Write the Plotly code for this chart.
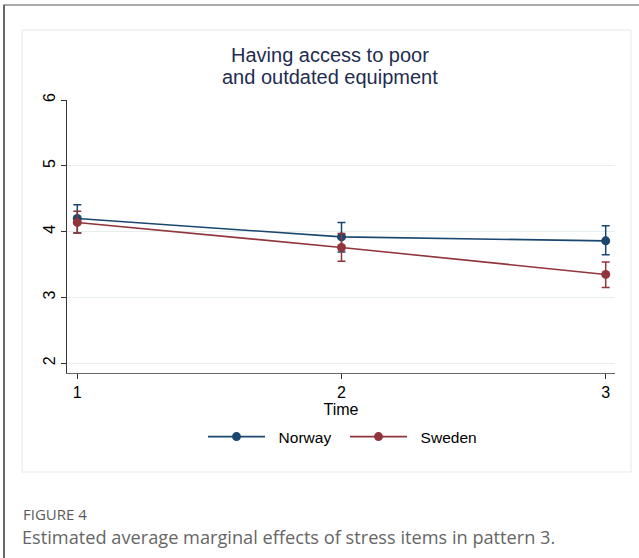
import plotly.graph_objects as go

# ---- data ----
time_points = [1, 2, 3]
norway_mean = [4.20, 3.92, 3.86]
norway_upper = [4.41, 4.14, 4.09]
norway_lower = [3.98, 3.69, 3.65]
sweden_mean = [4.14, 3.76, 3.35]
sweden_upper = [4.31, 3.97, 3.54]
sweden_lower = [3.98, 3.55, 3.15]
series_names = ["Norway", "Sweden"]
y_ticks = [2, 3, 4, 5, 6]
x_ticks = [1, 2, 3]
title_lines = ["Having access to poor", "and outdated equipment"]

W, H = 639, 558
L, R, T, B = 67, 615, 100, 373  # plot area in px

def px_x(p):
    return (p - L) / (R - L)

def px_y(p):
    return (B - p) / (B - T)

NAVY = "#1a476f"
MAROON = "#90353b"

fig = go.Figure()
for name, m, up, lo, c in [(series_names[0], norway_mean, norway_upper, norway_lower, NAVY),
                           (series_names[1], sweden_mean, sweden_upper, sweden_lower, MAROON)]:
    fig.add_trace(go.Scatter(
        x=time_points, y=m, name="&nbsp;&nbsp;" + name, mode="lines+markers",
        line=dict(color=c, width=1.6),
        marker=dict(color=c, size=9),
        error_y=dict(type="data", symmetric=False,
                     array=[u - v for u, v in zip(up, m)],
                     arrayminus=[v - d for v, d in zip(m, lo)],
                     color=c, thickness=1.5, width=4),
    ))

font_main = "Liberation Sans, Arial, sans-serif"
fig.update_layout(
    width=W, height=H,
    margin=dict(l=L, r=W - R, t=T, b=H - B, autoexpand=False),
    paper_bgcolor="white", plot_bgcolor="white",
    font=dict(family=font_main, color="black", size=16),
    showlegend=True,
    legend=dict(orientation="h", x=0.5 + 4 / (R - L), xanchor="center", y=px_y(437), yanchor="middle",
                font=dict(size=15.5, family=font_main), itemwidth=57,
                entrywidth=70, traceorder="normal"),
    xaxis=dict(range=[1 - (77.3 - L) / 264.3, 3 + (R - 605.7) / 264.3],
               tickvals=x_ticks, ticks="outside", ticklen=5, tickcolor="#333",
               showline=True, linecolor="#666", linewidth=1.2, showgrid=False, zeroline=False,
               title=dict(text="Time", font=dict(size=16), standoff=0),
               tickfont=dict(size=16)),
    yaxis=dict(range=[2 - (B - 363.3) / 65.8, 6],
               tickvals=y_ticks, ticks="outside", ticklen=5, tickcolor="#333", tickangle=-90,
               showline=True, linecolor="#333", linewidth=1, showgrid=True,
               gridcolor="#e6eded", gridwidth=1, zeroline=False, tickfont=dict(size=16)),
)

for line_text, yp in zip(title_lines, [55.5, 76.5]):
    fig.add_annotation(text=line_text,
                       xref="paper", yref="paper", x=px_x(330), y=px_y(yp),
                       xanchor="center", yanchor="middle", showarrow=False,
                       font=dict(size=20, color="#1f2d50", family=font_main))

# frames
fig.add_shape(type="rect", xref="paper", yref="paper",
              x0=px_x(4), x1=px_x(W + 20), y0=px_y(5), y1=px_y(H + 20),
              line=dict(color="#8f8f8f", width=1.5), fillcolor="rgba(0,0,0,0)", layer="above")
fig.add_shape(type="rect", xref="paper", yref="paper",
              x0=px_x(3.2), x1=px_x(4.8), y0=px_y(5), y1=px_y(H + 20),
              line=dict(width=0), fillcolor="#555555", layer="above")
fig.add_shape(type="rect", xref="paper", yref="paper",
              x0=px_x(22), x1=px_x(631), y0=px_y(30), y1=px_y(472),
              line=dict(color="#e3eaea", width=1), layer="below")

cap_font = "Open Sans, Noto Sans, sans-serif"
fig.add_annotation(text="FIGURE 4", xref="paper", yref="paper",
                   x=px_x(21), y=px_y(514), xanchor="left", yanchor="middle",
                   showarrow=False, font=dict(size=15, color="#5a5a5a", family=cap_font))
fig.add_annotation(text="Estimated average marginal effects of stress items in pattern 3.",
                   xref="paper", yref="paper",
                   x=px_x(20), y=px_y(537), xanchor="left", yanchor="middle",
                   showarrow=False, font=dict(size=18.2, color="#666666", family=cap_font))

fig.write_html("out.html", config={"displayModeBar": False},
               post_script="document.body.style.margin='0px';document.body.style.overflow='hidden';")
